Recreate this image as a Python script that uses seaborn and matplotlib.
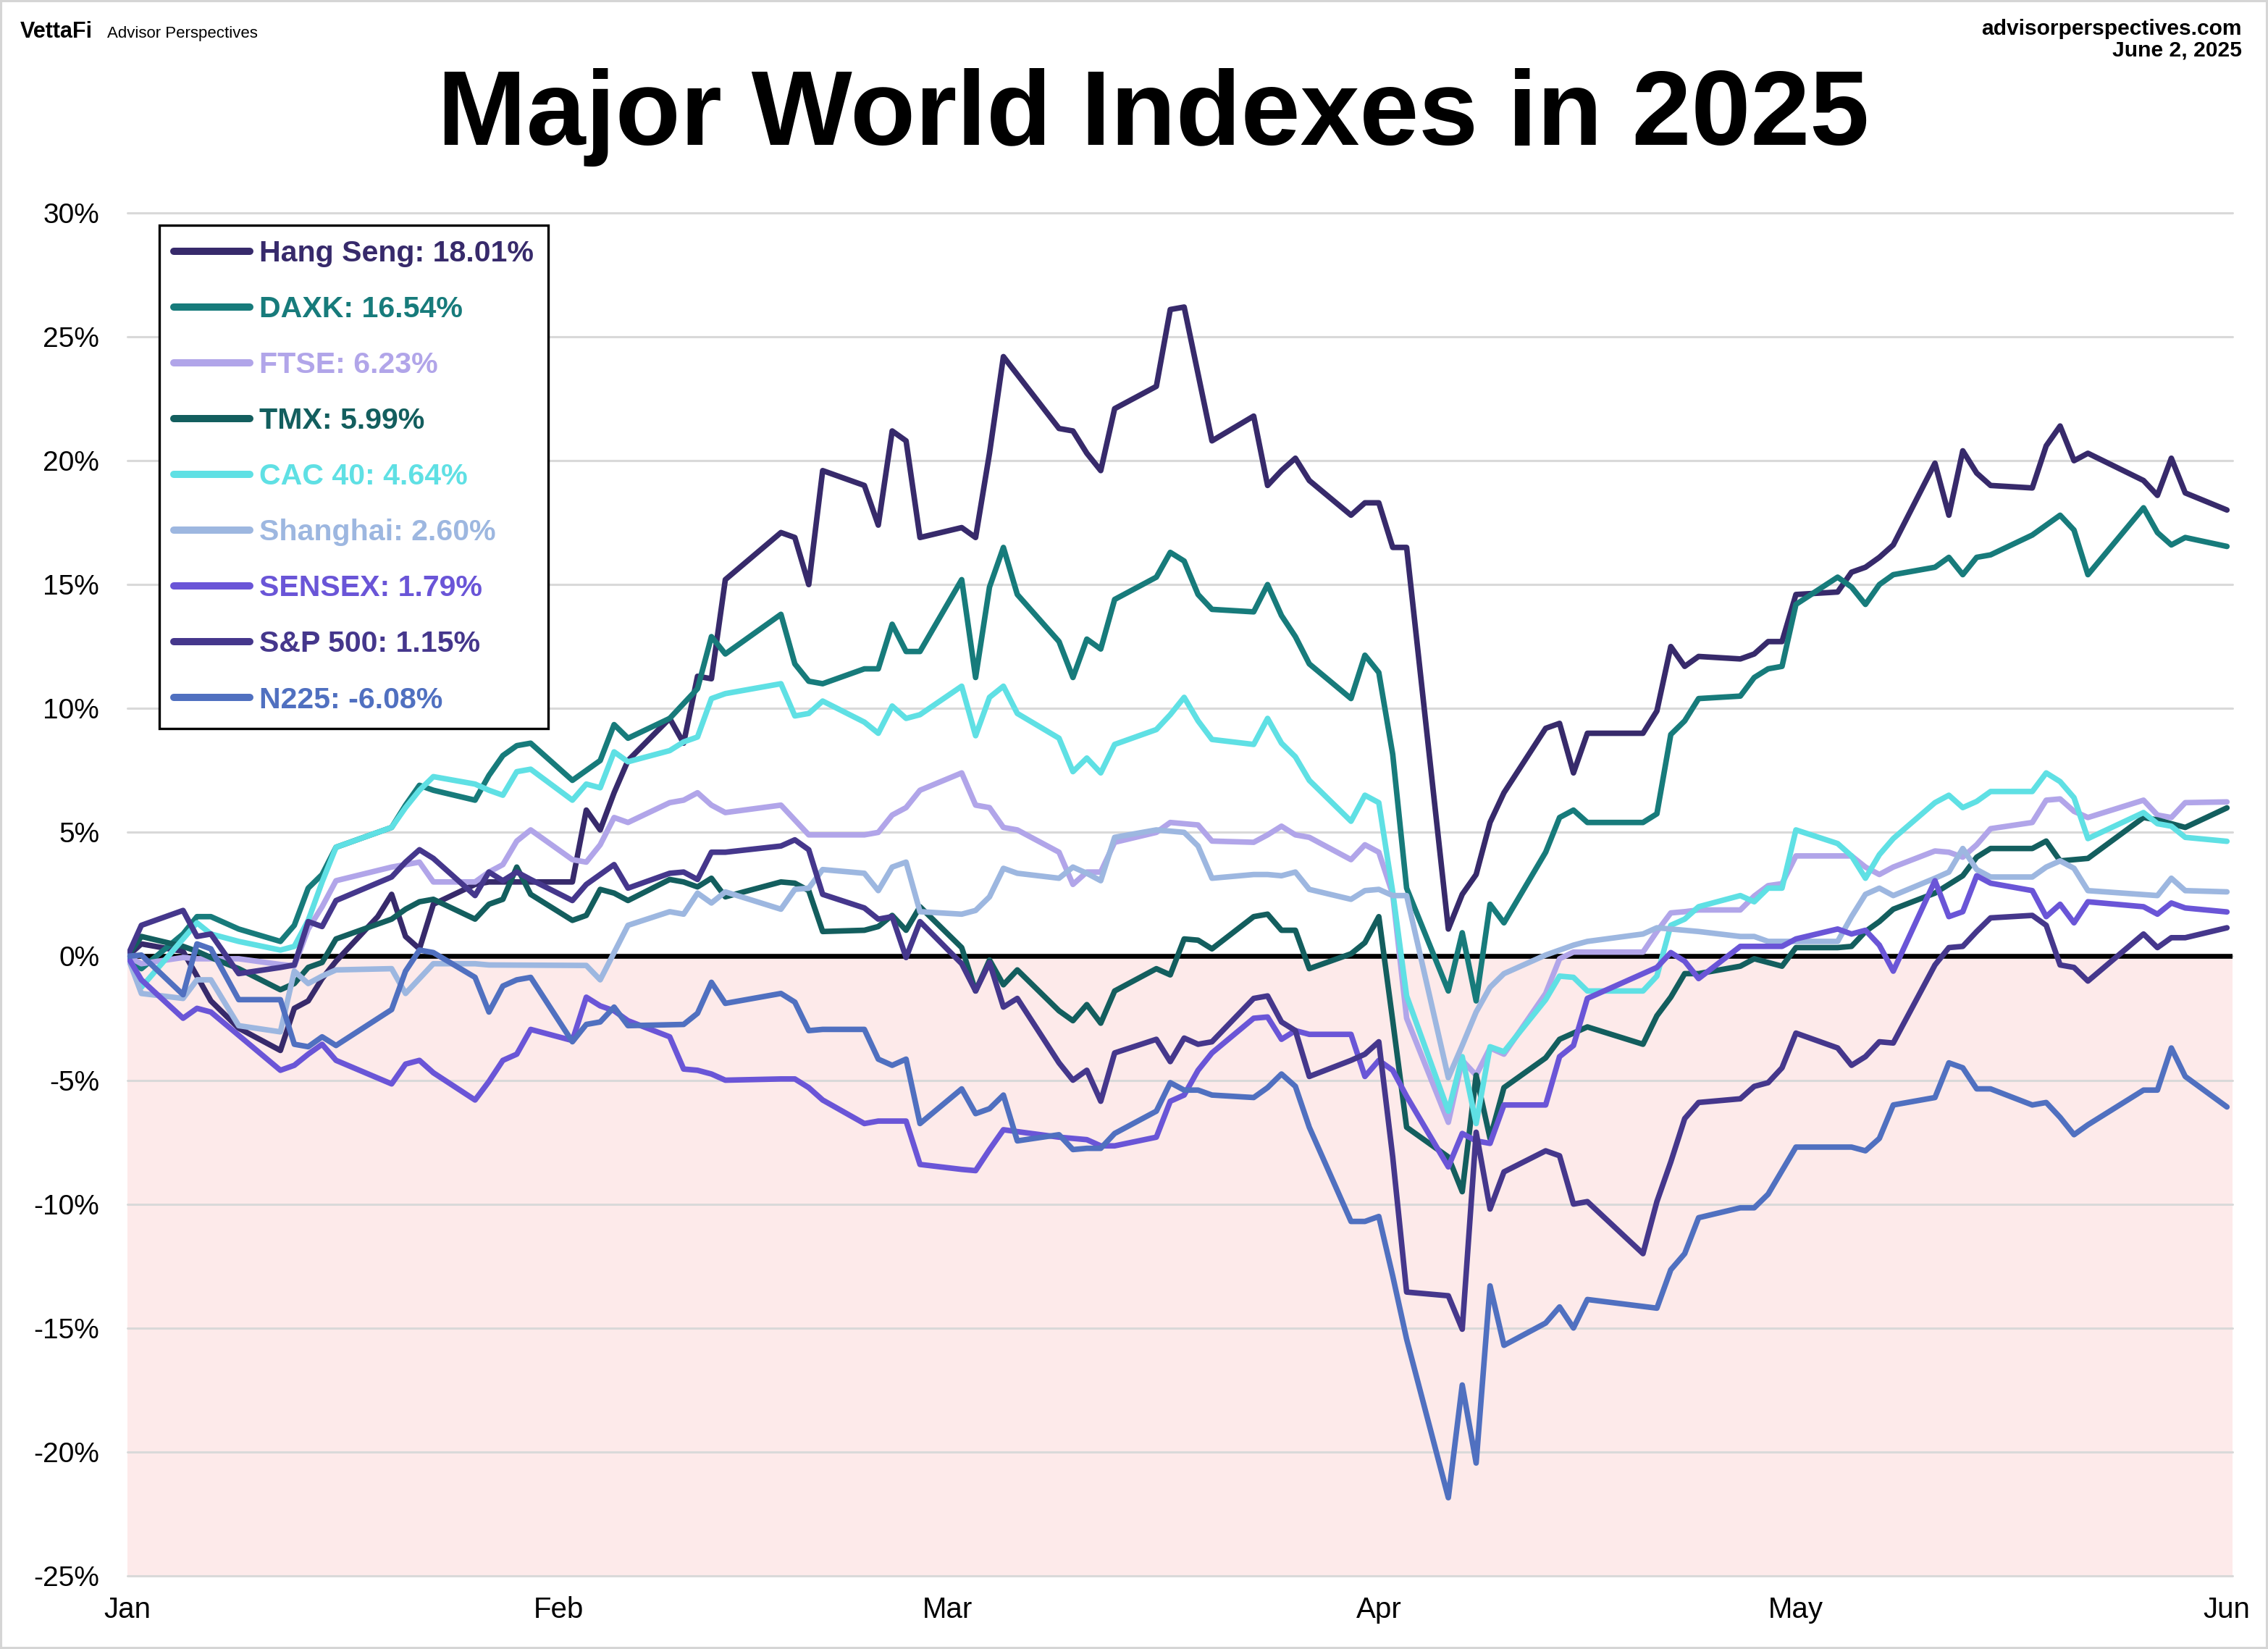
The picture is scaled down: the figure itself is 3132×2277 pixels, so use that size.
import numpy as np
import pandas as pd
import matplotlib
matplotlib.use("Agg")
import matplotlib.pyplot as plt
from matplotlib.lines import Line2D
from matplotlib.patches import Rectangle
import seaborn as sns

# (day counted from Jan 1 2025 = 0, % change since the Jan 2 close)
hang_seng = [(1, 0.0), (2, 0.5), (5, 0.2), (6, -0.8), (7, -1.8), (9, -2.9), (12, -3.8), (13, -2.1), (14, -1.8),
             (15, -0.9), (16, -0.2), (19, 1.6), (20, 2.5), (21, 0.8), (22, 0.3), (23, 2.1), (26, 2.9), (27, 3.0),
             (33, 3.0), (34, 5.9), (35, 5.1), (36, 6.6), (37, 7.9), (40, 9.6), (41, 8.6), (42, 11.3), (43, 11.2),
             (44, 15.2), (48, 17.1), (49, 16.9), (50, 15.0), (51, 19.6), (54, 19.0), (55, 17.4), (56, 21.2),
             (57, 20.8), (58, 16.9), (61, 17.3), (62, 16.9), (63, 20.3), (64, 24.2), (68, 21.3), (69, 21.2),
             (70, 20.3), (71, 19.6), (72, 22.1), (75, 23.0), (76, 26.1), (77, 26.2), (79, 20.8), (82, 21.8),
             (83, 19.0), (84, 19.6), (85, 20.1), (86, 19.2), (89, 17.8), (90, 18.3), (91, 18.3), (92, 16.5),
             (93, 16.5), (96, 1.1), (97, 2.5), (98, 3.3), (99, 5.4), (100, 6.6), (103, 9.2), (104, 9.4), (105, 7.4),
             (106, 9.0), (110, 9.0), (111, 9.9), (112, 12.5), (113, 11.7), (114, 12.1), (117, 12.0), (118, 12.2),
             (119, 12.7), (120, 12.7), (121, 14.6), (124, 14.7), (125, 15.5), (126, 15.7), (127, 16.1), (128, 16.6),
             (131, 19.9), (132, 17.8), (133, 20.4), (134, 19.5), (135, 19.0), (138, 18.9), (139, 20.6), (140, 21.4),
             (141, 20.0), (142, 20.3), (146, 19.2), (147, 18.6), (148, 20.1), (149, 18.7), (152, 18.01)]

daxk = [(1, 0.0), (2, -0.5), (5, 0.9), (6, 1.6), (7, 1.6), (9, 1.1), (12, 0.6), (13, 1.25), (14, 2.75), (15, 3.3),
        (16, 4.4), (20, 5.2), (21, 6.1), (22, 6.9), (23, 6.7), (26, 6.3), (27, 7.3), (28, 8.1), (29, 8.5), (30, 8.6),
        (33, 7.1), (35, 7.9), (36, 9.35), (37, 8.8), (40, 9.6), (42, 10.8), (43, 12.9), (44, 12.2), (48, 13.8),
        (49, 11.8), (50, 11.1), (51, 11.0), (54, 11.6), (55, 11.6), (56, 13.4), (57, 12.3), (58, 12.3), (61, 15.2),
        (62, 11.25), (63, 14.9), (64, 16.5), (65, 14.6), (68, 12.7), (69, 11.25), (70, 12.8), (71, 12.4), (72, 14.4),
        (75, 15.3), (76, 16.3), (77, 15.95), (78, 14.6), (79, 14.0), (82, 13.9), (83, 15.0), (84, 13.75), (85, 12.9),
        (86, 11.8), (89, 10.4), (90, 12.15), (91, 11.45), (92, 8.15), (93, 2.75), (96, -1.4), (97, 0.95), (98, -1.8),
        (99, 2.1), (100, 1.35), (103, 4.2), (104, 5.6), (105, 5.9), (106, 5.4), (110, 5.4), (111, 5.75), (112, 8.95),
        (113, 9.5), (114, 10.4), (117, 10.5), (118, 11.25), (119, 11.6), (120, 11.7), (121, 14.2), (124, 15.3),
        (125, 14.9), (126, 14.2), (127, 15.0), (128, 15.4), (131, 15.7), (132, 16.1), (133, 15.4), (134, 16.1),
        (135, 16.2), (138, 17.0), (139, 17.4), (140, 17.8), (141, 17.2), (142, 15.4), (146, 18.1), (147, 17.1),
        (148, 16.6), (149, 16.9), (152, 16.54)]

ftse = [(1, 0.0), (2, -0.3), (5, -0.05), (6, -0.1), (7, -0.1), (9, -0.1), (12, -0.33), (13, -0.39), (14, 1.1),
        (15, 2.0), (16, 3.05), (20, 3.6), (21, 3.7), (22, 3.8), (23, 3.0), (26, 3.0), (27, 3.4), (28, 3.7), (29, 4.65),
        (30, 5.1), (33, 3.9), (34, 3.8), (35, 4.5), (36, 5.6), (37, 5.4), (40, 6.2), (41, 6.3), (42, 6.6), (43, 6.1),
        (44, 5.8), (48, 6.1), (49, 5.5), (50, 4.9), (51, 4.9), (54, 4.9), (55, 5.0), (56, 5.7), (57, 6.0), (58, 6.7),
        (61, 7.4), (62, 6.1), (63, 6.0), (64, 5.2), (65, 5.1), (68, 4.2), (69, 2.9), (70, 3.4), (71, 3.4), (72, 4.6),
        (75, 5.0), (76, 5.4), (77, 5.35), (78, 5.3), (79, 4.65), (82, 4.6), (83, 4.9), (84, 5.25), (85, 4.9), (86, 4.8),
        (89, 3.9), (90, 4.5), (91, 4.2), (92, 2.5), (93, -2.5), (96, -6.7), (97, -4.2), (98, -4.8), (99, -3.7),
        (100, -3.95), (103, -1.5), (104, -0.1), (105, 0.17), (106, 0.17), (110, 0.17), (111, 1.0), (112, 1.75),
        (113, 1.8), (114, 1.87), (117, 1.87), (118, 2.43), (119, 2.85), (120, 2.93), (121, 4.05), (124, 4.05),
        (125, 4.05), (126, 3.6), (127, 3.3), (128, 3.6), (131, 4.25), (132, 4.2), (133, 4.0), (134, 4.5), (135, 5.15),
        (138, 5.4), (139, 6.3), (140, 6.35), (141, 5.85), (142, 5.6), (146, 6.3), (147, 5.7), (148, 5.6), (149, 6.2),
        (152, 6.23)]

tmx = [(1, 0.0), (2, 0.8), (5, 0.4), (6, 0.2), (7, -0.05), (9, -0.5), (12, -1.35), (13, -1.1), (14, -0.45),
       (15, -0.25), (16, 0.7), (20, 1.5), (21, 1.9), (22, 2.2), (23, 2.3), (26, 1.5), (27, 2.1), (28, 2.3), (29, 3.6),
       (30, 2.5), (33, 1.45), (34, 1.65), (35, 2.7), (36, 2.55), (37, 2.25), (40, 3.1), (41, 3.0), (42, 2.8),
       (43, 3.15), (44, 2.4), (48, 3.0), (49, 2.95), (50, 2.65), (51, 1.0), (54, 1.05), (55, 1.2), (56, 1.65),
       (57, 1.05), (58, 2.0), (61, 0.35), (62, -1.4), (63, -0.15), (64, -1.15), (65, -0.55), (68, -2.2), (69, -2.6),
       (70, -1.95), (71, -2.7), (72, -1.4), (75, -0.5), (76, -0.75), (77, 0.7), (78, 0.65), (79, 0.3), (82, 1.6),
       (83, 1.7), (84, 1.05), (85, 1.05), (86, -0.5), (89, 0.1), (90, 0.55), (91, 1.6), (92, -2.6), (93, -6.9),
       (96, -8.1), (97, -9.5), (98, -4.8), (99, -7.35), (100, -5.3), (103, -4.1), (104, -3.35), (105, -3.1),
       (106, -2.85), (110, -3.55), (111, -2.4), (112, -1.65), (113, -0.7), (114, -0.7), (117, -0.4), (118, -0.1),
       (119, -0.25), (120, -0.4), (121, 0.35), (124, 0.35), (125, 0.4), (126, 1.0), (127, 1.4), (128, 1.9),
       (131, 2.55), (132, 2.9), (133, 3.25), (134, 4.0), (135, 4.35), (138, 4.35), (139, 4.65), (140, 3.85),
       (141, 3.9), (142, 3.95), (146, 5.6), (147, 5.5), (148, 5.35), (149, 5.2), (152, 5.99)]

cac40 = [(1, 0.0), (2, -1.25), (5, 0.7), (6, 1.35), (7, 0.9), (9, 0.6), (12, 0.25), (13, 0.4), (14, 1.45), (15, 3.0),
         (16, 4.4), (20, 5.2), (21, 6.0), (22, 6.7), (23, 7.25), (26, 6.95), (27, 6.7), (28, 6.5), (29, 7.45),
         (30, 7.55), (33, 6.3), (34, 6.95), (35, 6.8), (36, 8.25), (37, 7.85), (40, 8.3), (41, 8.65), (42, 8.85),
         (43, 10.4), (44, 10.6), (48, 11.0), (49, 9.7), (50, 9.8), (51, 10.3), (54, 9.45), (55, 9.0), (56, 10.1),
         (57, 9.6), (58, 9.75), (61, 10.9), (62, 8.9), (63, 10.45), (64, 10.9), (65, 9.8), (68, 8.8), (69, 7.45),
         (70, 8.0), (71, 7.4), (72, 8.55), (75, 9.15), (76, 9.75), (77, 10.45), (78, 9.5), (79, 8.75), (82, 8.55),
         (83, 9.6), (84, 8.6), (85, 8.05), (86, 7.1), (89, 5.45), (90, 6.5), (91, 6.2), (92, 2.6), (93, -1.6),
         (96, -6.25), (97, -4.05), (98, -6.75), (99, -3.65), (100, -3.85), (103, -1.75), (104, -0.8), (105, -0.85),
         (106, -1.4), (110, -1.4), (111, -0.8), (112, 1.25), (113, 1.5), (114, 2.0), (117, 2.45), (118, 2.2),
         (119, 2.75), (120, 2.75), (121, 5.1), (124, 4.55), (125, 4.05), (126, 3.15), (127, 4.1), (128, 4.75),
         (131, 6.2), (132, 6.5), (133, 6.0), (134, 6.25), (135, 6.65), (138, 6.65), (139, 7.4), (140, 7.05),
         (141, 6.4), (142, 4.75), (146, 5.8), (147, 5.35), (148, 5.25), (149, 4.8), (152, 4.64)]

shanghai = [(1, 0.0), (2, -1.5), (5, -1.7), (6, -0.95), (7, -0.95), (9, -2.8), (12, -3.05), (13, -0.6), (14, -1.1),
            (15, -0.8), (16, -0.55), (20, -0.5), (21, -1.5), (22, -0.9), (23, -0.3), (26, -0.3), (27, -0.35),
            (34, -0.37), (35, -0.95), (36, 0.15), (37, 1.25), (40, 1.8), (41, 1.7), (42, 2.55), (43, 2.15), (44, 2.6),
            (48, 1.9), (49, 2.7), (50, 2.75), (51, 3.5), (54, 3.35), (55, 2.65), (56, 3.6), (57, 3.8), (58, 1.8),
            (61, 1.7), (62, 1.85), (63, 2.4), (64, 3.55), (65, 3.35), (68, 3.15), (69, 3.6), (70, 3.35), (71, 3.05),
            (72, 4.8), (75, 5.1), (76, 5.05), (77, 5.0), (78, 4.45), (79, 3.15), (82, 3.3), (83, 3.3), (84, 3.25),
            (85, 3.4), (86, 2.7), (89, 2.3), (90, 2.65), (91, 2.7), (92, 2.45), (93, 2.45), (96, -4.9), (97, -3.6),
            (98, -2.25), (99, -1.25), (100, -0.7), (103, 0.05), (104, 0.25), (105, 0.45), (106, 0.6), (110, 0.9),
            (111, 1.15), (112, 1.1), (114, 1.0), (117, 0.8), (118, 0.8), (119, 0.6), (124, 0.6), (125, 1.6),
            (126, 2.5), (127, 2.75), (128, 2.45), (131, 3.15), (132, 3.4), (133, 4.35), (134, 3.5), (135, 3.2),
            (138, 3.2), (139, 3.6), (140, 3.85), (141, 3.55), (142, 2.65), (147, 2.45), (148, 3.15), (149, 2.65),
            (152, 2.60)]

sensex = [(1, 0.0), (2, -0.95), (5, -2.5), (6, -2.1), (7, -2.25), (12, -4.6), (13, -4.4), (14, -3.95), (15, -3.55),
          (16, -4.2), (20, -5.15), (21, -4.35), (22, -4.2), (23, -4.7), (26, -5.8), (27, -5.05), (28, -4.2),
          (29, -3.95), (30, -2.95), (33, -3.4), (34, -1.65), (35, -2.0), (36, -2.2), (37, -2.6), (40, -3.25),
          (41, -4.55), (42, -4.6), (43, -4.75), (44, -5.0), (48, -4.95), (49, -4.95), (50, -5.3), (51, -5.8),
          (54, -6.75), (55, -6.65), (57, -6.65), (58, -8.4), (61, -8.6), (62, -8.65), (63, -7.8), (64, -7.0),
          (68, -7.3), (69, -7.35), (70, -7.4), (71, -7.65), (72, -7.65), (75, -7.3), (76, -5.85), (77, -5.6),
          (78, -4.6), (79, -3.9), (82, -2.5), (83, -2.45), (84, -3.35), (85, -3.0), (86, -3.15), (89, -3.15),
          (90, -4.85), (91, -4.2), (92, -4.6), (93, -5.65), (96, -8.5), (97, -7.15), (98, -7.45), (99, -7.55),
          (100, -6.0), (103, -6.0), (104, -4.05), (105, -3.6), (106, -1.7), (111, -0.45), (112, 0.15), (113, -0.2),
          (114, -0.9), (117, 0.4), (118, 0.4), (120, 0.4), (121, 0.7), (124, 1.1), (125, 0.9), (126, 1.05),
          (127, 0.45), (128, -0.6), (131, 3.05), (132, 1.6), (133, 1.8), (134, 3.25), (135, 2.95), (138, 2.65),
          (139, 1.6), (140, 2.1), (141, 1.35), (142, 2.2), (146, 2.0), (147, 1.7), (148, 2.15), (149, 1.95),
          (152, 1.79)]

sp500 = [(1, 0.0), (2, 1.25), (5, 1.85), (6, 0.8), (7, 0.9), (9, -0.7), (12, -0.45), (13, -0.35), (14, 1.4),
         (15, 1.2), (16, 2.25), (20, 3.2), (21, 3.8), (22, 4.3), (23, 3.95), (26, 2.45), (27, 3.4), (28, 3.05),
         (29, 3.4), (30, 3.1), (33, 2.25), (34, 2.9), (35, 3.3), (36, 3.7), (37, 2.75), (40, 3.35), (41, 3.4),
         (42, 3.1), (43, 4.2), (44, 4.2), (48, 4.45), (49, 4.7), (50, 4.3), (51, 2.5), (54, 1.95), (55, 1.5),
         (56, 1.6), (57, -0.05), (58, 1.4), (61, -0.3), (62, -1.4), (63, -0.25), (64, -2.05), (65, -1.7), (68, -4.3),
         (69, -5.0), (70, -4.6), (71, -5.85), (72, -3.9), (75, -3.35), (76, -4.25), (77, -3.3), (78, -3.55),
         (79, -3.45), (82, -1.7), (83, -1.6), (84, -2.65), (85, -3.0), (86, -4.85), (89, -4.2), (90, -3.95),
         (91, -3.45), (92, -8.1), (93, -13.55), (96, -13.7), (97, -15.05), (98, -7.1), (99, -10.2), (100, -8.7),
         (103, -7.85), (104, -8.05), (105, -10.0), (106, -9.9), (110, -12.0), (111, -9.9), (112, -8.3),
         (113, -6.55), (114, -5.9), (117, -5.75), (118, -5.25), (119, -5.1), (120, -4.5), (121, -3.1), (124, -3.7),
         (125, -4.4), (126, -4.05), (127, -3.45), (128, -3.5), (131, -0.35), (132, 0.35), (133, 0.4), (134, 1.0),
         (135, 1.55), (138, 1.65), (139, 1.25), (140, -0.35), (141, -0.45), (142, -1.0), (146, 0.9), (147, 0.35),
         (148, 0.75), (149, 0.75), (152, 1.15)]

n225 = [(1, 0.0), (2, 0.05), (5, -1.55), (6, 0.5), (7, 0.3), (9, -1.75), (12, -1.75), (13, -3.55), (14, -3.65),
        (15, -3.25), (16, -3.6), (20, -2.15), (21, -0.6), (22, 0.25), (23, 0.15), (26, -0.85), (27, -2.25),
        (28, -1.2), (29, -0.95), (30, -0.85), (33, -3.45), (34, -2.75), (35, -2.65), (36, -2.05), (37, -2.8),
        (41, -2.75), (42, -2.3), (43, -1.05), (44, -1.9), (48, -1.5), (49, -1.85), (50, -3.0), (51, -2.95),
        (54, -2.95), (55, -4.15), (56, -4.4), (57, -4.15), (58, -6.75), (61, -5.35), (62, -6.35), (63, -6.15),
        (64, -5.6), (65, -7.45), (68, -7.2), (69, -7.8), (70, -7.75), (71, -7.75), (72, -7.15), (75, -6.25),
        (76, -5.1), (77, -5.4), (78, -5.4), (79, -5.6), (82, -5.7), (83, -5.3), (84, -4.75), (85, -5.25), (86, -6.9),
        (89, -10.7), (90, -10.7), (91, -10.5), (92, -12.9), (93, -15.45), (96, -21.85), (97, -17.3), (98, -20.45),
        (99, -13.3), (100, -15.7), (103, -14.8), (104, -14.15), (105, -15.0), (106, -13.85), (111, -14.2),
        (112, -12.65), (113, -12.0), (114, -10.55), (117, -10.15), (118, -10.15), (119, -9.6), (121, -7.7),
        (125, -7.7), (126, -7.85), (127, -7.35), (128, -6.0), (131, -5.7), (132, -4.3), (133, -4.5), (134, -5.35),
        (135, -5.35), (138, -6.0), (139, -5.9), (140, -6.5), (141, -7.2), (142, -6.8), (146, -5.4), (147, -5.4),
        (148, -3.7), (149, -4.85), (152, -6.08)]

names = ["Hang Seng", "DAXK", "FTSE", "TMX", "CAC 40", "Shanghai", "SENSEX", "S&P 500", "N225"]
colors = ["#372a6b", "#177b7b", "#b1a5e9", "#135e5e", "#5fe0e4", "#9db7e0", "#6a55d7", "#45378c", "#5070c0"]
month_ticks = ["2025-01-02", "2025-02-02", "2025-03-02", "2025-04-02", "2025-05-02", "2025-06-02"]
month_labels = ["Jan", "Feb", "Mar", "Apr", "May", "Jun"]
y_ticks = [-25, -20, -15, -10, -5, 0, 5, 10, 15, 20, 25, 30]

all_series = [hang_seng, daxk, ftse, tmx, cac40, shanghai, sensex, sp500, n225]

start = pd.Timestamp("2025-01-01")
frames = []
for name, pts in zip(names, all_series):
    d = pd.DataFrame(pts, columns=["day", "pct"])
    d["date"] = start + pd.to_timedelta(d["day"], unit="D")
    d["index"] = name
    frames.append(d)
df = pd.concat(frames, ignore_index=True)

sns.set_style("white")
plt.rcParams["font.family"] = ["Liberation Sans", "DejaVu Sans"]
plt.rcParams["text.color"] = "black"
plt.rcParams["xtick.color"] = "black"
plt.rcParams["ytick.color"] = "black"

fig = plt.figure(figsize=(15.66, 11.385), dpi=200)
ax = fig.add_axes([0.0562, 0.0444, 0.928, 0.8265])

# shaded negative zone, grid, zero line
ax.axhspan(-25, 0, color="#fdeaea", lw=0, zorder=0)
for y in y_ticks:
    ax.axhline(y, color="#d9d9d9", lw=1.1, zorder=0.5, clip_on=False)
ax.axhline(0, color="black", lw=2.4, zorder=1)

sns.lineplot(data=df, x="date", y="pct", hue="index", hue_order=names, palette=colors,
             estimator=None, linewidth=2.75, legend=False, ax=ax, zorder=2)
for ln in ax.lines:
    ln.set_solid_capstyle("round")
    ln.set_solid_joinstyle("round")

ax.set_xlim(pd.Timestamp("2025-01-02"), pd.Timestamp("2025-06-02") + pd.Timedelta(hours=9))
ax.set_ylim(-25, 30)
ax.set_xticks(pd.to_datetime(month_ticks))
ax.set_xticklabels(month_labels)
ax.set_yticks(y_ticks)
ax.set_yticklabels([f"{v}%" for v in y_ticks])
ax.tick_params(axis="y", length=0, pad=14, labelsize=14, labelcolor="black")
ax.tick_params(axis="x", length=0, pad=10, labelsize=14.5, labelcolor="black")
ax.set_xlabel("")
ax.set_ylabel("")
for s in ax.spines.values():
    s.set_visible(False)

# legend with last values, text coloured like the lines
handles = [Line2D([0], [0], color=c, lw=3.6, solid_capstyle="round") for c in colors]
labels = [f"{n}: {pts[-1][1]:.2f}%" for n, pts in zip(names, all_series)]
leg = ax.legend(handles, labels, loc="upper left", bbox_to_anchor=(0.0151, 0.9912), borderaxespad=0,
                frameon=True, fancybox=False, edgecolor="black", framealpha=1,
                prop={"weight": "bold", "size": 14.8}, handlelength=2.55, handletextpad=0.3,
                labelspacing=0.95, borderpad=0.5)
leg.get_frame().set_linewidth(1.2)
for t, c in zip(leg.get_texts(), colors):
    t.set_color(c)

# header texts
fig.text(0.5085, 0.912, "Major World Indexes in 2025", ha="center", va="baseline",
         fontsize=53, weight="bold", color="black")
fig.text(0.0089, 0.977, "VettaFi", ha="left", va="baseline", fontsize=11, weight="bold", color="black")
fig.text(0.0472, 0.977, "Advisor Perspectives", ha="left", va="baseline", fontsize=8, color="black")
fig.text(0.9885, 0.979, "advisorperspectives.com", ha="right", va="baseline", fontsize=10.8,
         weight="bold", color="black")
fig.text(0.9885, 0.966, "June 2, 2025", ha="right", va="baseline", fontsize=10.8, weight="bold", color="black")

fig.patches.append(Rectangle((0, 0), 1, 1, transform=fig.transFigure, fill=False,
                             edgecolor="#d5d5d5", linewidth=2.2))

fig.savefig("out.png", dpi=200)
